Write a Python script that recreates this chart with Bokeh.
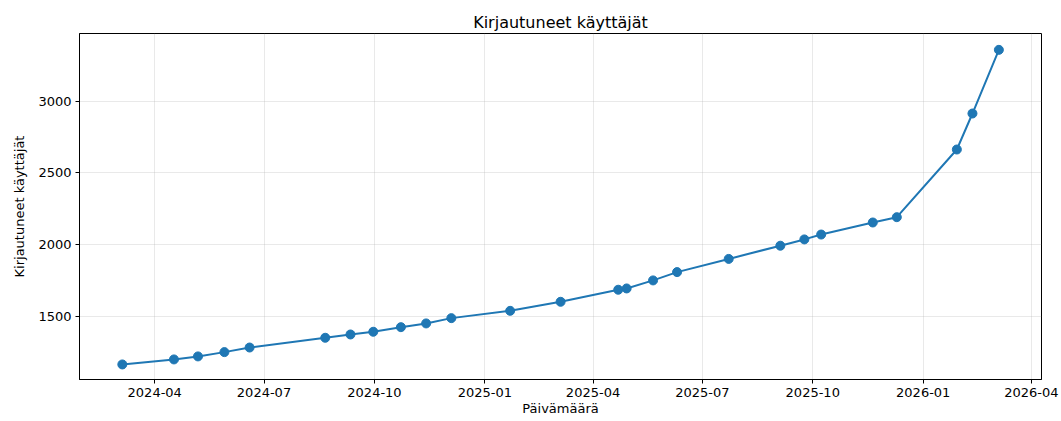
from datetime import datetime
from bokeh.plotting import figure
from bokeh.models import DatetimeTickFormatter, MonthsTicker, FixedTicker, Range1d
from bokeh.embed import file_html
from bokeh.resources import INLINE

dates = ["2024-03-05", "2024-04-17", "2024-05-07", "2024-05-29", "2024-06-19",
         "2024-08-21", "2024-09-11", "2024-09-30", "2024-10-23", "2024-11-13",
         "2024-12-04", "2025-01-22", "2025-03-05", "2025-04-22", "2025-04-29",
         "2025-05-21", "2025-06-10", "2025-07-23", "2025-09-04", "2025-09-24",
         "2025-10-08", "2025-11-20", "2025-12-10", "2026-01-29", "2026-02-11",
         "2026-03-05"]
users = [1164, 1199, 1220, 1250, 1282,
         1350, 1373, 1392, 1424, 1450,
         1487, 1538, 1601, 1685, 1694,
         1750, 1808, 1900, 1992, 2036,
         2070, 2154, 2191, 2663, 2914,
         3358]
y_ticks = [1500, 2000, 2500, 3000]

title = "Kirjautuneet käyttäjät"
x_label = "Päivämäärä"
y_label = "Kirjautuneet käyttäjät"

x = [datetime.strptime(d, "%Y-%m-%d") for d in dates]

FONT = "DejaVu Sans"

p = figure(width=1061, height=421, output_backend="svg", toolbar_location=None,
           x_axis_type="datetime",
           x_range=Range1d(datetime(2024, 1, 29, 8), datetime(2026, 4, 9, 12)),
           y_range=Range1d(1059, 3472),
           frame_width=962, frame_height=346,
           min_border_left=79, min_border_top=33, min_border_right=20, min_border_bottom=42)

p.title.text = title
p.title.align = "center"
p.title.text_font = FONT
p.title.text_font_size = "16px"
p.title.text_font_style = "normal"
p.title.text_color = "black"
p.title.offset = 0
p.title.standoff = 4

p.line(x, users, line_color="#1f77b4", line_width=2)
p.scatter(x, users, size=9, fill_color="#1f77b4", line_color="#1f77b4")

p.xaxis.ticker = MonthsTicker(months=[0, 3, 6, 9])
p.xaxis.formatter = DatetimeTickFormatter(months="%Y-%m", days="%Y-%m", years="%Y-%m")
p.yaxis.ticker = FixedTicker(ticks=y_ticks)

for ax in (p.xaxis[0], p.yaxis[0]):
    ax.major_label_text_font = FONT
    ax.major_label_text_font_size = "13px"
    ax.major_label_text_color = "black"
    ax.axis_label_text_font = FONT
    ax.axis_label_text_font_size = "13px"
    ax.axis_label_text_font_style = "normal"
    ax.axis_label_text_color = "black"
    ax.major_tick_out = 4
    ax.major_tick_in = 0
    ax.minor_tick_out = 0
    ax.minor_tick_in = 0
    ax.major_tick_line_color = "black"
    ax.axis_line_color = "black"
    ax.axis_line_width = 1

p.xaxis.axis_label = x_label
p.yaxis.axis_label = y_label
p.xaxis.major_label_standoff = 4
p.xaxis.axis_label_standoff = 1
p.yaxis.major_label_standoff = 4
p.yaxis.axis_label_standoff = 8

p.xgrid.grid_line_color = "#b0b0b0"
p.ygrid.grid_line_color = "#b0b0b0"
p.xgrid.grid_line_alpha = 0.35
p.ygrid.grid_line_alpha = 0.35
p.xgrid.grid_line_width = 0.8
p.ygrid.grid_line_width = 0.8

p.outline_line_color = "black"
p.outline_line_alpha = 1
p.outline_line_width = 1

open("out.html", "w").write(file_html(p, INLINE))
